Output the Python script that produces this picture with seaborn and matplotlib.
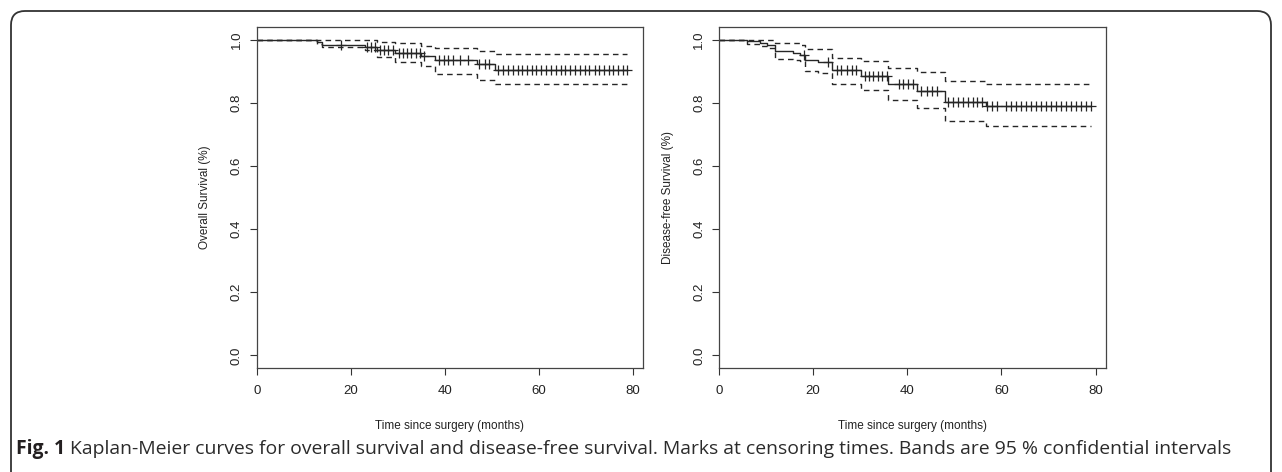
import numpy as np
import pandas as pd
import matplotlib
matplotlib.use("Agg")
import matplotlib.pyplot as plt
import seaborn as sns
from matplotlib.patches import FancyBboxPatch
from matplotlib.transforms import IdentityTransform

# ---------------- data ----------------
# Overall survival: step times (months) and survival after each step
os_times = [12.9, 13.8, 23.0, 25.5, 29.4, 35.0, 37.9, 46.8, 50.8]
os_surv = [0.992, 0.984, 0.978, 0.968, 0.960, 0.948, 0.936, 0.923, 0.906]
os_upper = [1.000, 1.000, 1.000, 0.994, 0.989, 0.982, 0.974, 0.964, 0.956]
os_lower = [0.986, 0.978, 0.967, 0.946, 0.930, 0.917, 0.892, 0.873, 0.859]
os_end = 78.9
os_censor = [18.0, 23.4, 24.4, 25.1, 26.2, 27.0, 27.9, 28.9, 30.3, 31.1, 32.0,
             32.9, 33.8, 34.7, 35.7, 38.8, 39.8, 40.7, 41.8, 43.2, 44.9, 47.4,
             48.5, 49.5, 51.3, 52.4, 53.4, 54.5, 55.5, 56.5, 57.5, 58.5, 59.5,
             60.5, 61.6, 62.6, 63.6, 64.7, 65.7, 66.7, 67.8, 68.8, 69.8, 70.8,
             71.9, 72.9, 73.9, 74.9, 75.9, 76.9, 77.9, 78.9]

# Disease-free survival
dfs_times = [5.9, 8.7, 10.1, 11.9, 15.8, 17.1, 18.3, 21.1, 24.1, 30.1, 36.0,
             42.1, 48.0, 56.7]
dfs_surv = [0.995, 0.989, 0.984, 0.965, 0.960, 0.953, 0.937, 0.931, 0.905,
            0.887, 0.860, 0.839, 0.804, 0.790]
dfs_upper = [1.000, 1.000, 1.000, 0.989, 0.989, 0.983, 0.970, 0.970, 0.944,
             0.933, 0.912, 0.898, 0.869, 0.859]
dfs_lower = [0.986, 0.981, 0.975, 0.941, 0.937, 0.933, 0.901, 0.895, 0.859,
             0.841, 0.811, 0.785, 0.742, 0.726]
dfs_end = 79.0
dfs_censor = [18.0, 23.1, 25.0, 26.0, 27.1, 28.2, 29.2, 31.0, 31.9, 32.8, 33.7,
              34.7, 35.6, 38.2, 39.1, 40.2, 41.1, 43.0, 44.1, 45.2, 46.2, 48.7,
              49.8, 50.8, 51.9, 52.9, 53.9, 54.9, 55.8, 57.0, 57.9, 59.0, 60.9,
              62.0, 63.1, 64.1, 65.2, 66.2, 67.3, 68.4, 69.4, 70.5, 71.6, 72.6,
              73.7, 74.7, 75.8, 76.9, 77.9, 79.0]

x_ticks = [0, 20, 40, 60, 80]
y_ticks = [0.0, 0.2, 0.4, 0.6, 0.8, 1.0]
x_label = "Time since surgery (months)"
y_labels = ["Overall Survival (%)", "Disease-free Survival (%)"]
caption_bold = "Fig. 1"
caption_text = (" Kaplan-Meier curves for overall survival and disease-free survival. "
                "Marks at censoring times. Bands are 95 % confidential intervals")

# ---------------- figure ----------------
sns.set_theme(style="white")
plt.rcParams["font.family"] = ["Liberation Sans", "DejaVu Sans"]

W, H = 1282, 472
fig = plt.figure(figsize=(W / 100, H / 100), dpi=100)
fig.patch.set_facecolor("white")

line_col = "#262626"


def step_frame(times, vals, end):
    t = [0.0] + list(times) + [end]
    v = [1.0] + list(vals) + [vals[-1]]
    return pd.DataFrame({"t": t, "v": v})


def km_panel(ax, times, surv, upper, lower, end, censor, ylabel):
    est = step_frame(times, surv, end)
    up = step_frame(times, upper, end)
    lo = step_frame(times, lower, end)
    sns.lineplot(data=est, x="t", y="v", ax=ax, color=line_col, lw=1.0,
                 drawstyle="steps-post", estimator=None, sort=False)
    for d in (up, lo):
        sns.lineplot(data=d, x="t", y="v", ax=ax, color=line_col, lw=1.0,
                     drawstyle="steps-post", estimator=None, sort=False,
                     dashes=False, linestyle=(0, (4, 3)))
    # censor marks on the estimated curve
    idx = np.searchsorted(np.array(times), np.array(censor), side="right") - 1
    sv = np.where(idx >= 0, np.array(surv)[np.clip(idx, 0, None)], 1.0)
    cdf = pd.DataFrame({"t": censor, "v": sv})
    sns.scatterplot(data=cdf, x="t", y="v", ax=ax, marker="+", s=55,
                    color=line_col, linewidth=0.9, zorder=3)

    ax.set_xlim(0, 82.2)
    ax.set_ylim(-0.04, 1.04)
    ax.set_xticks(x_ticks)
    ax.set_yticks(y_ticks)
    ax.set_xticklabels([str(v) for v in x_ticks])
    ax.set_yticklabels([f"{v:.1f}" for v in y_ticks], rotation=90, va="center")
    ax.tick_params(axis="both", which="major", direction="out", length=5,
                   width=0.8, color="#333333", labelsize=9.5,
                   labelcolor="#222222", bottom=True, left=True)
    ax.tick_params(axis="x", pad=7)
    ax.tick_params(axis="y", pad=5)
    for s in ax.spines.values():
        s.set_visible(True)
        s.set_color("#444444")
        s.set_linewidth(0.9)
    ax.set_xlabel(x_label, fontsize=8.5, color="#222222", labelpad=17)
    ax.set_ylabel(ylabel, fontsize=8.5, color="#222222", labelpad=14)


ax1 = fig.add_axes([256.7 / W, 1 - 368 / H, (643 - 256.7) / W, (368 - 27.3) / H])
ax2 = fig.add_axes([719 / W, 1 - 368 / H, (1106 - 719) / W, (368 - 27.3) / H])

km_panel(ax1, os_times, os_surv, os_upper, os_lower, os_end, os_censor, y_labels[0])
km_panel(ax2, dfs_times, dfs_surv, dfs_upper, dfs_lower, dfs_end, dfs_censor, y_labels[1])

# rounded outer border
border = FancyBboxPatch((11, -30), 1260, H - 11 + 30,
                        boxstyle="round,pad=0,rounding_size=14",
                        transform=IdentityTransform(), fill=False,
                        edgecolor="#333333", linewidth=1.3, clip_on=False)
fig.add_artist(border)

# caption (bold lead-in followed by regular text, fitted to the reference width)
cap_y = 1 - 449 / H
cap_fam = ["Open Sans", "DejaVu Sans"]
cap_left, cap_right = 16, 1228
fs = 12.0
renderer = fig.canvas.get_renderer()
t1 = fig.text(cap_left / W, cap_y, caption_bold, fontsize=fs, fontweight="bold",
              family=cap_fam, color="#231f20", va="center", ha="left")
t2 = fig.text(0, cap_y, caption_text, fontsize=fs, family=cap_fam,
              color="#2b2b2b", va="center", ha="left")
w_total = (t1.get_window_extent(renderer).width +
           t2.get_window_extent(renderer).width)
fs = fs * (cap_right - cap_left) / w_total
t1.set_fontsize(fs)
t2.set_fontsize(fs)
bb = t1.get_window_extent(renderer)
t2.set_x(bb.x1 / W)

fig.savefig("out.png", dpi=100, facecolor="white")
